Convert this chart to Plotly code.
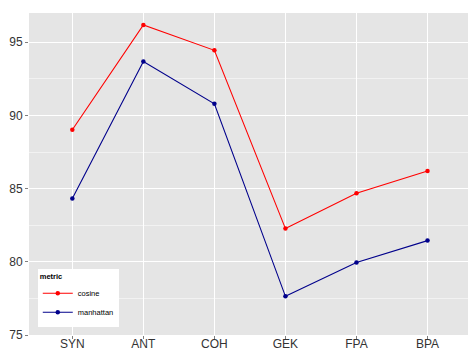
import plotly.graph_objects as go

categories = ["SYN", "ANT", "COH", "GEK", "FPA", "BPA"]
cosine = [89.02, 96.18, 94.45, 82.27, 84.68, 86.20]
manhattan = [84.32, 93.68, 90.80, 77.64, 79.96, 81.45]

series = [("cosine", cosine, "#FF0000"), ("manhattan", manhattan, "#00008B")]

fig = go.Figure()
for name, vals, col in series:
    fig.add_trace(go.Scatter(
        x=categories, y=vals, name=name, mode="lines+markers",
        line=dict(color=col, width=1.1),
        marker=dict(color=col, size=4.5),
    ))

axis_font = dict(family="Liberation Sans, Arial, sans-serif", size=12, color="#333333")

fig.update_layout(
    width=468, height=350,
    margin=dict(l=29, r=0, t=13, b=15),
    paper_bgcolor="white",
    plot_bgcolor="#E5E5E5",
    showlegend=True,
    legend=dict(
        title=dict(text="<b>metric</b>", font=dict(size=7.5, color="#000000")),
        font=dict(family="Liberation Sans, Arial, sans-serif", size=7.5, color="#000000"),
        x=0.02, y=0.025, xanchor="left", yanchor="bottom",
        bgcolor="white", borderwidth=0,
        itemwidth=30, tracegroupgap=0,
    ),
    font=axis_font,
)

fig.update_xaxes(
    type="category", range=[-0.61, 5.57], automargin=False,
    showgrid=True, gridcolor="white", gridwidth=1.2,
    ticks="outside", ticklen=3, tickcolor="#7F7F7F", tickwidth=1,
    ticklabelstandoff=-5,
    tickfont=axis_font, showline=False, zeroline=False,
)
fig.update_yaxes(
    range=[75, 97], tickmode="array", tickvals=[75, 80, 85, 90, 95],
    automargin=False,
    showgrid=True, gridcolor="white", gridwidth=1.2,
    minor=dict(tickmode="array", tickvals=[77.5, 82.5, 87.5, 92.5],
               showgrid=True, gridcolor="#F2F2F2", gridwidth=0.6, ticks=""),
    ticks="outside", ticklen=3, tickcolor="#7F7F7F", tickwidth=1,
    tickfont=axis_font, showline=False, zeroline=False,
)

fig.write_html("out.html")
